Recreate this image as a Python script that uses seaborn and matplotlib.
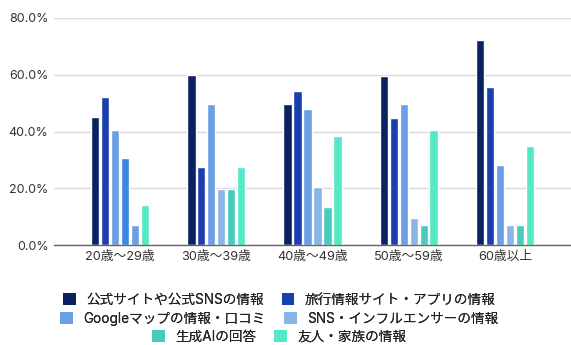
import matplotlib
matplotlib.use("Agg")
import matplotlib.pyplot as plt
from matplotlib.patches import Patch
from matplotlib.ticker import FuncFormatter
import seaborn as sns
import pandas as pd

categories = ["20歳〜29歳", "30歳〜39歳", "40歳〜49歳", "50歳〜59歳", "60歳以上"]
series = ["公式サイトや公式SNSの情報", "旅行情報サイト・アプリの情報",
          "Googleマップの情報・口コミ", "SNS・インフルエンサーの情報",
          "生成AIの回答", "友人・家族の情報"]
official = [45.0, 60.0, 49.7, 59.5, 72.2]
travel = [52.2, 27.5, 54.3, 44.9, 55.7]
google = [40.4, 49.8, 47.8, 49.7, 28.1]
sns_info = [30.8, 19.9, 20.3, 9.5, 6.9]
gen_ai = [7.0, 19.9, 13.4, 6.9, 6.9]
friends = [14.2, 27.5, 38.4, 40.4, 34.9]
values = [official, travel, google, sns_info, gen_ai, friends]
colors = ["#0b2160", "#1c3fae", "#6a9fe6", "#8ab4ea", "#48cbbf", "#52e8c8"]

rows = []
for s, vals in zip(series, values):
    for c, v in zip(categories, vals):
        rows.append({"age": c, "series": s, "value": v})
df = pd.DataFrame(rows)

sns.set_style("white")
plt.rcParams["font.family"] = ["Inter", "Noto Sans CJK JP", "DejaVu Sans"]

fig = plt.figure(figsize=(5.71, 3.45), dpi=100)
ax = fig.add_axes([54 / 571, 1 - 245 / 345, 517 / 571, 227 / 345])

sns.barplot(data=df, x="age", y="value", hue="series", order=categories,
            hue_order=series, palette=colors, width=0.62, gap=0.16,
            legend=False, ax=ax, saturation=1)

# per-bar colour quirks seen in the reference (20-29 group)
ax.containers[3][0].set_facecolor("#3a86e0")
ax.containers[4][0].set_facecolor("#6d9ee3")

ax.set_ylim(0, 80)
ax.set_xlim(-0.685, 4.685)
ax.set_yticks([0, 20, 40, 60, 80])
ax.yaxis.set_major_formatter(FuncFormatter(lambda v, p: f"{v:.1f}%"))
ax.grid(axis="y", color="#d9d9d9", linewidth=1)
ax.set_axisbelow(True)
for side in ["left", "right", "top"]:
    ax.spines[side].set_visible(False)
ax.spines["bottom"].set_color("#666666")
ax.spines["bottom"].set_linewidth(1)
ax.tick_params(axis="both", length=0, colors="#333333")
ax.tick_params(axis="y", pad=4, labelsize=9)
ax.tick_params(axis="x", pad=4, labelsize=9.2)
ax.set_xlabel("")
ax.set_ylabel("")

handles = [Patch(facecolor=c, edgecolor="none") for c in colors]
ys = [1 - 300 / 345, 1 - 319 / 345, 1 - 337 / 345]
xs = [0.489, 0.489, 0.489]
for i, y in enumerate(ys):
    leg = fig.legend(handles[2 * i:2 * i + 2], series[2 * i:2 * i + 2],
                     loc="center", bbox_to_anchor=(xs[i], y), ncol=2,
                     frameon=False, fontsize=9.8, handlelength=0.95, handleheight=0.95,
                     handletextpad=0.75, columnspacing=1.3, borderpad=0,
                     borderaxespad=0, labelcolor="#222222")
    fig.add_artist(leg)

fig.savefig("out.png", dpi=100)
